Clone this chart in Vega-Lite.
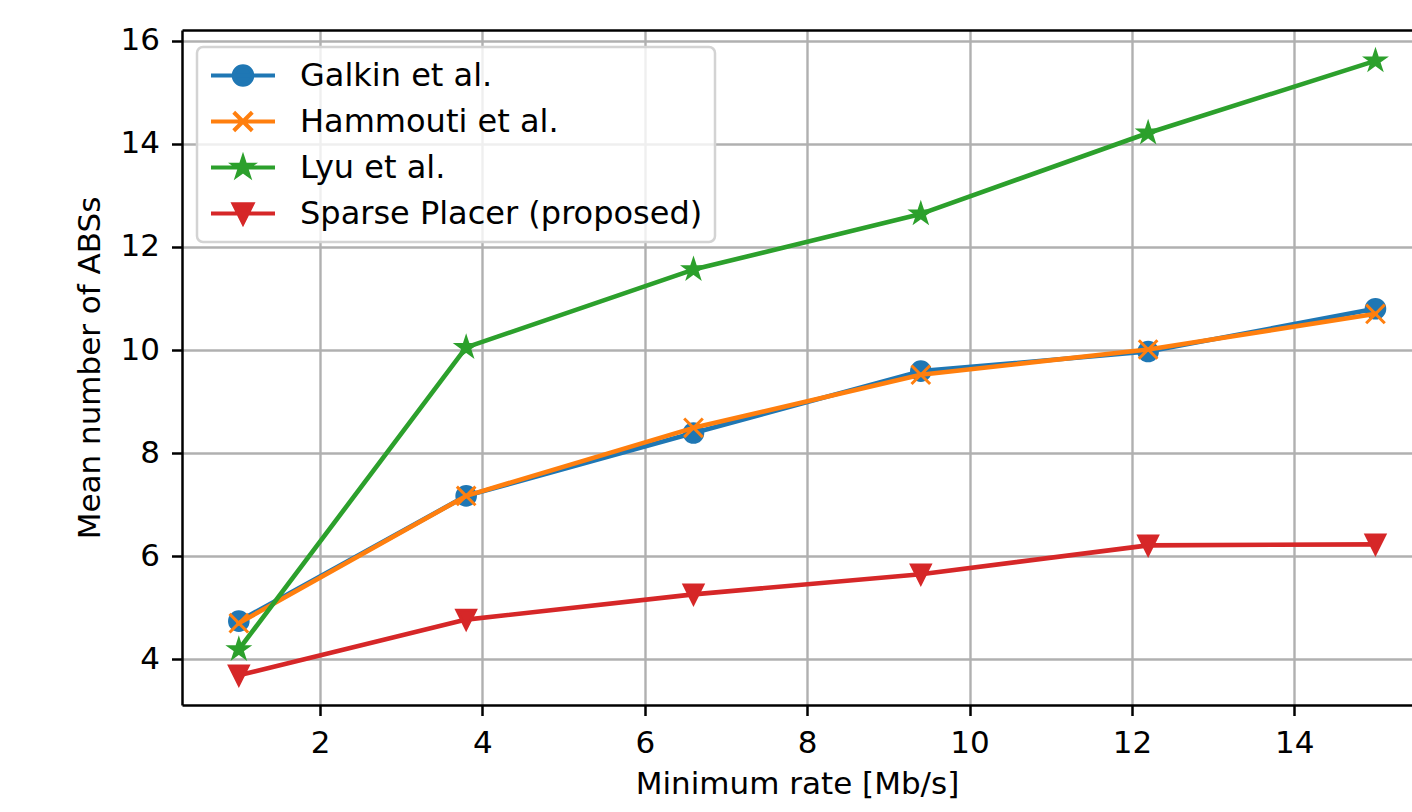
{
  "$schema": "https://vega.github.io/schema/vega-lite/v6.json",
  "width": 1230,
  "height": 675,
  "autosize": {"type": "none"},
  "padding": {"left": 182, "top": 30, "right": 0, "bottom": 107},
  "background": "white",
  "config": {
    "view": {"stroke": null},
    "axis": {
      "labelFont": "DejaVu Sans", "titleFont": "DejaVu Sans",
      "labelFontSize": 31, "titleFontSize": 31,
      "labelColor": "black", "titleColor": "black", "titleFontWeight": "normal",
      "domainColor": "black", "domainWidth": 2.5,
      "tickColor": "black", "tickWidth": 2.5, "tickSize": 10.5,
      "gridColor": "#b0b0b0", "gridWidth": 2.4, "gridOpacity": 1
    },
    "legend": {
      "orient": "none", "legendX": 15, "legendY": 17,
      "labelFont": "DejaVu Sans", "labelFontSize": 32, "labelColor": "black", "labelLimit": 0,
      "symbolSize": 4096, "symbolStrokeWidth": 4, "symbolOpacity": 1,
      "labelOffset": 23, "padding": 12, "clipHeight": 33, "rowPadding": 13,
      "fillColor": "rgba(255,255,255,0.8)", "strokeColor": "#d3d3d3",
      "strokeWidth": 2.5, "cornerRadius": 6, "title": null
    }
  },
  "data": {"values": [
    {"series": "Galkin et al.", "x": 1, "y": 4.74},
    {"series": "Galkin et al.", "x": 3.8, "y": 7.17},
    {"series": "Galkin et al.", "x": 6.6, "y": 8.39},
    {"series": "Galkin et al.", "x": 9.4, "y": 9.59},
    {"series": "Galkin et al.", "x": 12.2, "y": 9.97},
    {"series": "Galkin et al.", "x": 15, "y": 10.8},
    {"series": "Hammouti et al.", "x": 1, "y": 4.7},
    {"series": "Hammouti et al.", "x": 3.8, "y": 7.17},
    {"series": "Hammouti et al.", "x": 6.6, "y": 8.49},
    {"series": "Hammouti et al.", "x": 9.4, "y": 9.52},
    {"series": "Hammouti et al.", "x": 12.2, "y": 10.01},
    {"series": "Hammouti et al.", "x": 15, "y": 10.7},
    {"series": "Lyu et al.", "x": 1, "y": 4.19},
    {"series": "Lyu et al.", "x": 3.8, "y": 10.05},
    {"series": "Lyu et al.", "x": 6.6, "y": 11.56},
    {"series": "Lyu et al.", "x": 9.4, "y": 12.64},
    {"series": "Lyu et al.", "x": 12.2, "y": 14.21},
    {"series": "Lyu et al.", "x": 15, "y": 15.61},
    {"series": "Sparse Placer (proposed)", "x": 1, "y": 3.69},
    {"series": "Sparse Placer (proposed)", "x": 3.8, "y": 4.77},
    {"series": "Sparse Placer (proposed)", "x": 6.6, "y": 5.26},
    {"series": "Sparse Placer (proposed)", "x": 9.4, "y": 5.65},
    {"series": "Sparse Placer (proposed)", "x": 12.2, "y": 6.21},
    {"series": "Sparse Placer (proposed)", "x": 15, "y": 6.23}
  ]},
  "layer": [
    {
      "transform": [{"filter": "datum.series === 'Galkin et al.'"}],
      "mark": {"type": "line", "strokeWidth": 4.6, "strokeJoin": "round", "strokeCap": "square"},
      "encoding": {
        "x": {"field": "x", "type": "quantitative",
              "scale": {"domain": [0.3, 15.45], "nice": false, "zero": false},
              "axis": {"orient": "bottom", "values": [2, 4, 6, 8, 10, 12, 14], "grid": true,
                       "labelPadding": 13, "titlePadding": 11, "title": "Minimum rate [Mb/s]"}},
        "y": {"field": "y", "type": "quantitative",
              "scale": {"domain": [3.1135, 16.2076], "nice": false, "zero": false},
              "axis": {"values": [4, 6, 8, 10, 12, 14, 16], "grid": true,
                       "labelPadding": 12, "titlePadding": 14, "title": "Mean number of ABSs"}},
        "color": {"field": "series", "type": "nominal",
                  "scale": {"domain": ["Galkin et al.", "Hammouti et al.", "Lyu et al.", "Sparse Placer (proposed)"],
                            "range": ["#1f77b4", "#ff7f0e", "#2ca02c", "#d62728"]}}
      }
    },
    {
      "transform": [{"filter": "datum.series === 'Galkin et al.'"}],
      "mark": {"type": "point", "filled": true, "size": 400, "strokeWidth": 3, "opacity": 1,
               "shape": "M0.93,0A0.93,0.93 0 1,1 -0.93,0A0.93,0.93 0 1,1 0.93,0Z",
               "fill": "#1f77b4", "stroke": "#1f77b4"},
      "encoding": {
        "x": {"field": "x", "type": "quantitative",
              "axis": {"orient": "top", "labels": false, "ticks": false, "grid": false, "title": null, "domain": true}},
        "y": {"field": "y", "type": "quantitative"}
      }
    },
    {
      "transform": [{"filter": "datum.series !== 'Galkin et al.'"}],
      "mark": {"type": "line", "strokeWidth": 4.6, "strokeJoin": "round", "strokeCap": "square"},
      "encoding": {
        "x": {"field": "x", "type": "quantitative", "axis": null},
        "y": {"field": "y", "type": "quantitative"},
        "color": {"field": "series", "type": "nominal",
                  "scale": {"domain": ["Galkin et al.", "Hammouti et al.", "Lyu et al.", "Sparse Placer (proposed)"],
                            "range": ["#1f77b4", "#ff7f0e", "#2ca02c", "#d62728"]}}
      }
    },
    {
      "transform": [{"filter": "datum.series === 'Hammouti et al.'"}],
      "mark": {"type": "point", "filled": true, "size": 400, "strokeWidth": 3, "opacity": 1,
               "shape": "M-0.93,-0.93L0.93,0.93M-0.93,0.93L0.93,-0.93",
               "fill": "#ff7f0e", "stroke": "#ff7f0e"},
      "encoding": {
        "x": {"field": "x", "type": "quantitative", "axis": null},
        "y": {"field": "y", "type": "quantitative"}
      }
    },
    {
      "transform": [{"filter": "datum.series === 'Lyu et al.'"}],
      "mark": {"type": "point", "filled": true, "size": 400, "strokeWidth": 3, "opacity": 1,
               "shape": "M0,-0.93L0.2088,-0.2874L0.8845,-0.2874L0.3378,0.1098L0.5467,0.7524L0,0.3552L-0.5467,0.7524L-0.3378,0.1098L-0.8845,-0.2874L-0.2088,-0.2874Z",
               "fill": "#2ca02c", "stroke": "#2ca02c"},
      "encoding": {
        "x": {"field": "x", "type": "quantitative", "axis": null},
        "y": {"field": "y", "type": "quantitative"}
      }
    },
    {
      "transform": [{"filter": "datum.series === 'Sparse Placer (proposed)'"}],
      "mark": {"type": "point", "filled": true, "size": 400, "strokeWidth": 3, "opacity": 1,
               "shape": "M-0.93,-0.93L0.93,-0.93L0,0.93Z",
               "fill": "#d62728", "stroke": "#d62728"},
      "encoding": {
        "x": {"field": "x", "type": "quantitative", "axis": null},
        "y": {"field": "y", "type": "quantitative"}
      }
    },
    {
      "transform": [{"filter": "false"}],
      "mark": {"type": "point", "filled": true, "size": 400, "strokeWidth": 4, "opacity": 1},
      "encoding": {
        "x": {"field": "x", "type": "quantitative", "axis": null},
        "y": {"field": "y", "type": "quantitative"},
        "color": {"field": "series", "type": "nominal",
                  "scale": {"domain": ["Galkin et al.", "Hammouti et al.", "Lyu et al.", "Sparse Placer (proposed)"],
                            "range": ["#1f77b4", "#ff7f0e", "#2ca02c", "#d62728"]}},
        "shape": {"field": "series", "type": "nominal",
                  "scale": {"domain": ["Galkin et al.", "Hammouti et al.", "Lyu et al.", "Sparse Placer (proposed)"],
                            "range": [
                              "M-1,0H1M0.29,0A0.29,0.29 0 1,1 -0.29,0A0.29,0.29 0 1,1 0.29,0Z",
                              "M-1,0H1M-0.29,-0.29L0.29,0.29M-0.29,0.29L0.29,-0.29",
                              "M-1,0H1M0,-0.29L0.0651,-0.0896L0.2758,-0.0896L0.1054,0.0342L0.1705,0.2346L0,0.1108L-0.1705,0.2346L-0.1054,0.0342L-0.2758,-0.0896L-0.0651,-0.0896Z",
                              "M-1,0H1M-0.29,-0.29L0.29,-0.29L0,0.29Z"]}}
      }
    }
  ]
}
